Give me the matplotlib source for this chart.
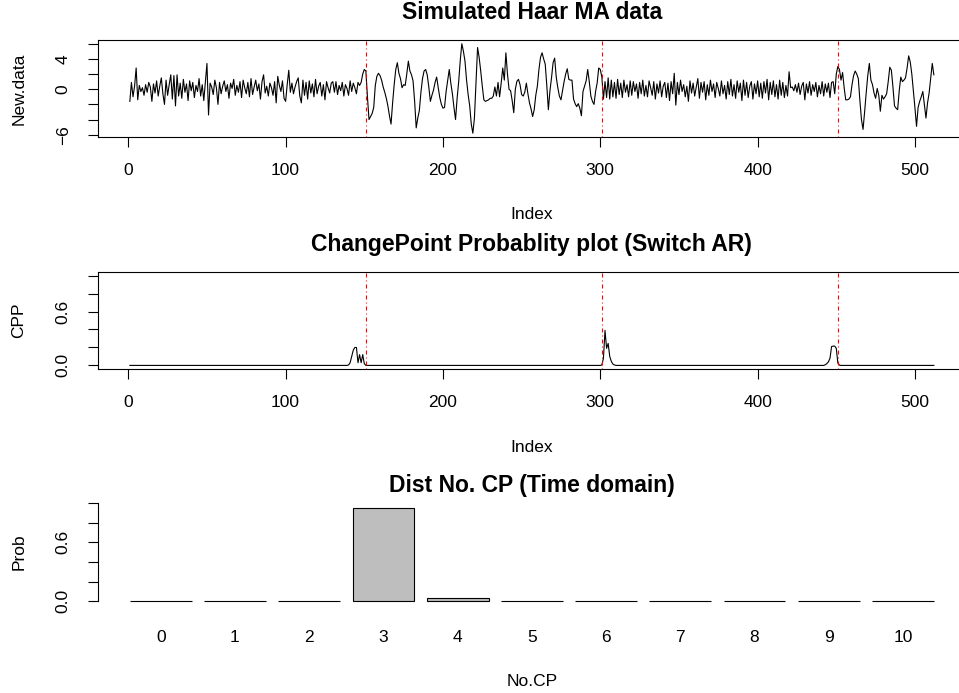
import numpy as np
import matplotlib
matplotlib.use("Agg")
import matplotlib.pyplot as plt

plt.rcParams['font.family'] = ['Liberation Sans', 'DejaVu Sans']
plt.rcParams['lines.scale_dashes'] = False

W, H, DPI = 959, 693, 100

# ---- simulated Haar MA series (indices 1..512) ----
seg_noise_1 = [
    -1.6, 0.9, -1.0, 0.4, 2.8, -1.4, 0.5, -0.3, 0.2, -0.8,
    0.6, -0.4, 0.9, 0.3, -1.6, 0.7, -0.5, 1.1, -0.9, 0.4,
    1.5, -0.6, -2.0, 1.2, -0.8, 0.6, 1.9, -1.3, 1.8, -2.2,
    1.9, -0.9, 0.8, -1.2, 1.3, -0.4, 0.7, -1.5, 1.1, -0.2,
    0.9, -1.1, 0.5, -0.3, 1.4, -0.9, 0.6, -1.5, 1.0, 3.4,
    -3.4, 0.8, 0.3, -0.7, 1.2, 0.2, -2.0, 0.9, -0.6, 0.4,
    1.1, -0.3, 0.6, -1.2, 0.8, 0.1, 1.3, -0.8, 0.5, -0.4,
    1.0, -1.1, 1.2, 0.2, -0.6, 0.9, -1.0, 1.4, -0.7, 0.3,
    1.2, -0.2, 0.7, -1.3, 1.0, 1.9, -0.5, 0.4, -0.9, 0.8,
    0.2, -0.8, 1.0, -1.8, 1.7, 0.5, -0.3, 1.1, -1.2, -1.6,
    0.6, 2.5, -0.4, 0.8, -0.6, 0.3, 1.0, 1.5, -0.9, -1.8,
    1.2, -0.8, 0.9, -1.3, 1.1, -0.5, 0.7, -1.0, 1.3, -0.6,
    0.4, 0.9, -0.9, 0.6, -1.4, 1.0, 0.2, -0.5, 0.8, 1.0,
    -0.4, 1.0, -0.7, 0.5, -0.2, 0.9, -0.9, 0.6, 0.1, -0.8,
    1.1, -0.3, 0.8, 0.2, -0.6, 0.9, 0.5, 0.9, 2.0, 2.6,
]
seg_smooth_1 = [
    2.4, -1.0, -4.0, -3.6, -3.2, -2.4, 0.5, 1.7, 2.1, 1.8,
    1.2, 0.3, -0.4, -1.2, -2.2, -3.5, -4.6, -1.8, 0.6, 2.6,
    3.5, 2.1, 1.4, 0.2, 0.6, 0.5, 2.0, 3.7, 2.4, 1.9,
    1.1, -1.6, -5.1, -3.8, -2.8, -0.4, 1.4, 2.4, 2.6, 1.9,
    0.3, -1.6, -0.8, -0.1, 0.9, 1.6, 0.2, -1.1, -2.0, -2.5,
    -2.4, -0.3, 1.2, 2.6, 0.8, -0.6, -2.4, -4.0, -1.2, 1.0,
    3.8, 6.0, 5.0, 3.7, 1.2, -0.7, -2.2, -4.6, -5.8, -3.8,
    1.0, 5.5, 4.2, 2.4, 0.4, -1.4, -1.6, -1.5, -1.4, -1.2,
    -1.2, -0.9, 0.3, -0.9, 0.9, -1.0, 0.8, 2.8, 1.2, 4.8,
    2.0, 0.0, -0.2, -1.5, -3.1, 0.0, 1.05, 1.3, 0.6, -0.7,
    -0.9, -0.4, 0.8, -0.6, -1.8, -2.6, -3.6, -2.7, -0.8, 0.4,
    2.6, 4.2, 4.8, 4.0, 3.3, 0.5, -2.7, -0.2, 1.5, 3.5,
    4.1, 1.6, 0.2, -0.9, -1.4, -0.2, 1.0, 2.0, 2.7, 1.3,
    1.2, 1.2, -1.3, -1.9, -2.3, -1.9, -2.5, -3.5, -0.3, 0.4,
    1.1, 2.6, 1.0, -0.9, -1.6, -2.0, -0.3, 0.8, 2.8, 2.6,
]
seg_noise_2 = [
    1.6, -1.3, 1.0, -1.1, 1.5, -1.3, 1.2, -1.0, 0.9, -1.2,
    1.3, -0.7, 0.8, -1.1, 1.2, -0.4, 0.6, -1.0, 1.1, -0.8,
    1.0, -0.3, 0.7, -1.2, 0.9, -0.6, 1.2, -0.9, 0.5, -1.0,
    1.1, 0.2, -0.8, 1.0, -1.3, 0.7, -0.5, 1.1, -1.0, 0.4,
    0.9, -1.1, 0.8, -1.5, 1.0, -0.6, 2.1, -2.1, 0.9, -0.7,
    1.2, -0.3, 0.6, -1.0, 0.4, -1.6, 1.1, -0.5, 0.8, -0.9,
    0.3, 1.4, -1.2, 0.9, -0.4, 1.0, -1.4, 0.6, -0.8, 1.2,
    -0.3, 0.7, -1.1, 0.9, 0.1, -0.9, 1.1, -0.6, 0.5, -1.3,
    1.0, -0.7, 1.3, -0.9, 0.6, -1.2, 1.1, -0.4, 0.8, -1.5,
    1.2, -0.8, 0.9, -1.1, 0.4, 1.0, -1.3, 0.7, -0.6, 1.1,
    -1.0, 0.8, -1.2, 1.0, -0.5, 1.3, -1.4, 0.9, -0.7, 1.1,
    -1.0, 0.6, -1.3, 1.2, -0.8, 0.9, -1.1, 0.5, -0.9, 2.3,
    0.2, 0.3, -0.2, 0.6, -0.4, 0.8, -0.7, 0.4, 0.9, -1.4,
    0.7, -0.5, 1.0, -0.8, 0.6, -0.3, 0.9, -1.0, 0.5, -0.6,
    1.0, -0.9, 0.7, -0.4, 0.8, -1.1, 0.9, 1.0, -0.6, 2.0,
]
seg_smooth_2 = [
    3.0, 2.6, 1.2, 2.2, 0.2, -1.4, -1.4, -1.3, -1.0, 0.6,
    1.8, 2.4, 2.0, 1.4, -1.5, -4.0, -5.3, -3.0, -0.5, 1.8,
    3.4, 1.2, 0.6, -0.5, -1.2, 0.1, -0.8, -2.9, -0.8, -1.3,
    -1.0, -0.6, 1.0, 2.9, 2.5, 0.3, -2.2, -2.5, -2.7, -0.2,
    1.6, 1.0, 1.2, 1.5, 2.8, 4.4, 3.6, 2.0, -0.2, -2.5,
    -4.9, -2.4, -1.6, -1.0, -0.3, -2.0, -3.8, -1.8, -0.5, 1.4,
    3.4, 1.9,
]
new_data = seg_noise_1 + seg_smooth_1 + seg_noise_2 + seg_smooth_2
index = np.arange(1, len(new_data) + 1)
true_cps = [151, 301, 451]

# ---- change-point probabilities (zero away from the listed indices) ----
cpp_index = [140, 141, 142, 143, 144, 145, 146, 147, 148, 149, 150,
             301, 302, 303, 304, 305, 306, 307, 308, 309,
             443, 444, 445, 446, 447, 448, 449, 450, 451, 452]
cpp_value = [0.005, 0.03, 0.10, 0.17, 0.20, 0.20, 0.03, 0.12, 0.03, 0.12, 0.02,
             0.005, 0.08, 0.39, 0.19, 0.245, 0.10, 0.045, 0.015, 0.005,
             0.007, 0.02, 0.04, 0.08, 0.21, 0.215, 0.215, 0.19, 0.025, 0.003]
cpp = np.zeros(len(new_data))
cpp[np.array(cpp_index) - 1] = cpp_value

# ---- distribution of the number of change points ----
n_cp = [0, 1, 2, 3, 4, 5, 6, 7, 8, 9, 10]
n_cp_prob = [0.001, 0.001, 0.006, 0.957, 0.033, 0.002, 0.0, 0.0, 0.0, 0.0, 0.0]

PT = 72.0 / DPI  # points per pixel
FS = 12.5
TFS = 16.5

fig = plt.figure(figsize=(W / DPI, H / DPI), dpi=DPI)


def axes_px(left, top, right, bottom):
    return fig.add_axes([left / W, 1 - bottom / H, (right - left) / W, (bottom - top) / H])


def ftext(x, y, s, **kw):
    fig.text(x / W, 1 - y / H, s, **kw)


def style_box(ax):
    for sp in ax.spines.values():
        sp.set_linewidth(0.8)
        sp.set_color('black')
    ax.tick_params(axis='both', length=10 * PT, width=0.8, labelsize=FS, color='black')
    ax.tick_params(axis='x', pad=16 * PT)
    ax.tick_params(axis='y', pad=17 * PT, labelrotation=90)
    for lab in ax.get_yticklabels():
        lab.set_va('center')


cp_dash = (0, (1 * PT, 3 * PT, 4 * PT, 3 * PT))
xlim_series = (1 - 0.04 * 511, 512 + 0.04 * 511)
L, R = 97.7, 966.0

# Panel 1: the series
ax1 = axes_px(L, 40, R, 137.3)
ax1.plot(index, new_data, color='black', lw=0.8)
for cp in true_cps:
    ax1.axvline(cp, color='red', lw=0.8, linestyle=cp_dash)
ax1.set_xlim(*xlim_series)
ax1.set_ylim(-6.34, 6.49)
ax1.set_xticks([0, 100, 200, 300, 400, 500])
ax1.set_yticks([-6, -4, -2, 0, 2, 4, 6])
ax1.set_yticklabels(['\u22126', '', '', '0', '', '4', ''])
style_box(ax1)

# Panel 2: change-point probabilities
ax2 = axes_px(L, 272, R, 369)
ax2.plot(index, cpp, color='black', lw=0.8)
for cp in true_cps:
    ax2.axvline(cp, color='red', lw=0.8, linestyle=cp_dash)
ax2.set_xlim(*xlim_series)
ax2.set_ylim(-0.04, 1.04)
ax2.set_xticks([0, 100, 200, 300, 400, 500])
ax2.set_yticks([0, 0.2, 0.4, 0.6, 0.8, 1.0])
ax2.set_yticklabels(['0.0', '', '', '0.6', '', ''])
style_box(ax2)

# Panel 3: bar chart of the number of change points
ax3 = axes_px(L, 499.4, R, 605)
centers = [0.7 + 1.2 * k for k in range(len(n_cp))]
ax3.bar(centers, n_cp_prob, width=1.0, color='#BEBEBE', edgecolor='black', linewidth=0.8)
ax3.set_xlim(0.2 - 0.52, 13.2 + 0.52)
ax3.set_ylim(-0.04, 1.04)
for side in ['top', 'right', 'bottom']:
    ax3.spines[side].set_visible(False)
ax3.spines['left'].set_bounds(0, 1)
ax3.spines['left'].set_linewidth(0.8)
ax3.set_yticks([0, 0.2, 0.4, 0.6, 0.8, 1.0])
ax3.set_yticklabels(['0.0', '', '', '0.6', '', ''])
ax3.set_xticks(centers)
ax3.set_xticklabels([str(v) for v in n_cp])
ax3.tick_params(axis='y', length=10 * PT, width=0.8, labelsize=FS, pad=17 * PT, labelrotation=90)
ax3.tick_params(axis='x', length=0, labelsize=FS, pad=25 * PT)
for lab in ax3.get_yticklabels():
    lab.set_va('center')

# Titles and axis labels
cx = (L + R) / 2
ftext(cx, 19, 'Simulated Haar MA data', ha='center', va='baseline', fontsize=TFS, fontweight='bold')
ftext(cx, 251, 'ChangePoint Probablity plot (Switch AR)', ha='center', va='baseline', fontsize=TFS, fontweight='bold')
ftext(cx, 492, 'Dist No. CP (Time domain)', ha='center', va='baseline', fontsize=TFS, fontweight='bold')
ftext(cx, 214, 'Index', ha='center', va='center', fontsize=FS)
ftext(cx, 447, 'Index', ha='center', va='center', fontsize=FS)
ftext(cx, 681, 'No.CP', ha='center', va='center', fontsize=FS)
ftext(19, 89, 'New.data', ha='center', va='center', rotation=90, fontsize=FS)
ftext(19, 320, 'CPP', ha='center', va='center', rotation=90, fontsize=FS)
ftext(19, 552, 'Prob', ha='center', va='center', rotation=90, fontsize=FS)

fig.savefig('out.png', dpi=DPI)
